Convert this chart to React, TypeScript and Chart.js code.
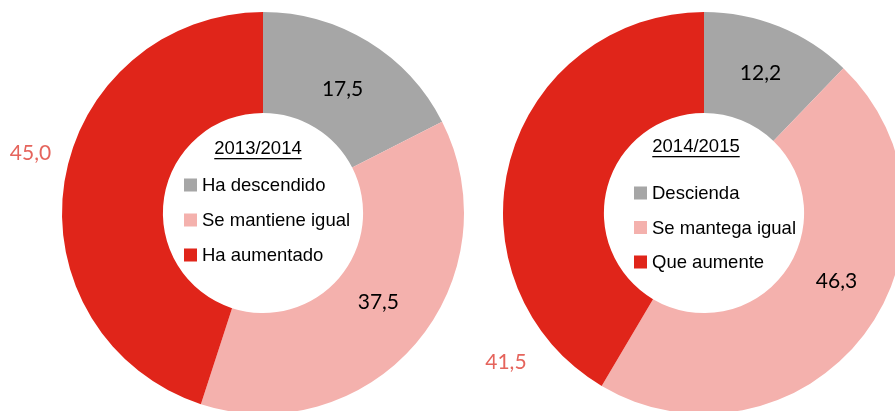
import React, { useEffect, useRef } from "react";
import { Chart, registerables } from "chart.js";

Chart.register(...registerables);

const leftTitle = "2013/2014";
const leftCategories = ["Ha descendido", "Se mantiene igual", "Ha aumentado"];
const leftValues = [17.5, 37.5, 45.0];

const rightTitle = "2014/2015";
const rightCategories = ["Descienda", "Se mantega igual", "Que aumente"];
const rightValues = [12.2, 46.3, 41.5];

const sliceColors = ["#A6A6A6", "#F4B1AD", "#E0251A"];

// label placement along each slice: fraction of the slice's sweep and radius (px)
const leftLabelPlace = [
  { t: 0.52, r: 147, color: "#000000" },
  { t: 0.48, r: 146, color: "#000000" },
  { t: 0.533, r: 240, color: "#E5645C" },
];
const rightLabelPlace = [
  { t: 0.5, r: 151, color: "#000000" },
  { t: 0.44, r: 149, color: "#000000" },
  { t: 0.15, r: 248, color: "#E5645C" },
];

const fmt = (v: number) => v.toFixed(1).replace(".", ",");

const labelPlugin = {
  id: "sliceLabels",
  afterDatasetsDraw(chart: any, _args: any, opts: any) {
    const ctx = chart.ctx;
    const meta = chart.getDatasetMeta(0);
    const values = chart.data.datasets[0].data as number[];
    ctx.save();
    ctx.font = "21px Lato";
    ctx.textAlign = "center";
    ctx.textBaseline = "middle";
    meta.data.forEach((arc: any, i: number) => {
      const p = arc.getProps(["x", "y", "startAngle", "endAngle"], true);
      const place = opts.places[i];
      const a = p.startAngle + place.t * (p.endAngle - p.startAngle);
      const x = p.x + Math.cos(a) * place.r;
      const y = p.y + Math.sin(a) * place.r;
      ctx.fillStyle = place.color;
      ctx.fillText(fmt(values[i]), x, y);
    });
    ctx.restore();
  },
};

const centerLegendPlugin = {
  id: "centerLegend",
  afterDatasetsDraw(chart: any, _args: any, opts: any) {
    const ctx = chart.ctx;
    const meta = chart.getDatasetMeta(0);
    const arc = meta.data[0];
    if (!arc) return;
    const { x: cx, y: cy } = arc.getProps(["x", "y"], true);
    const labels = chart.data.labels as string[];
    const colors = chart.data.datasets[0].backgroundColor as string[];
    ctx.save();
    ctx.font = "18.5px 'Liberation Sans'";
    ctx.fillStyle = "#000";
    ctx.textBaseline = "middle";
    // title
    ctx.textAlign = "center";
    const tx = cx + opts.titleDx;
    const ty = cy + opts.titleDy;
    ctx.fillText(opts.title, tx, ty);
    const tw = ctx.measureText(opts.title).width;
    ctx.fillRect(tx - tw / 2, ty + 9, tw, 1.3);
    // items
    ctx.textAlign = "left";
    labels.forEach((lab, i) => {
      const y = cy + opts.itemDy + i * opts.rowGap;
      const bx = cx + opts.boxDx;
      ctx.fillStyle = colors[i];
      ctx.fillRect(bx, y - 6.5, 13, 13);
      ctx.fillStyle = "#000";
      ctx.fillText(lab, bx + 18, y + 1);
    });
    ctx.restore();
  },
};

function Donut(props: {
  categories: string[];
  values: number[];
  title: string;
  places: any[];
  padding: any;
  legend: any;
  style: React.CSSProperties;
}) {
  const ref = useRef<HTMLCanvasElement>(null);
  useEffect(() => {
    if (!ref.current) return;
    const chart = new Chart(ref.current, {
      type: "doughnut",
      data: {
        labels: props.categories,
        datasets: [
          {
            data: props.values,
            backgroundColor: sliceColors,
            borderWidth: 0,
            hoverOffset: 0,
          },
        ],
      },
      options: {
        animation: false,
        responsive: false,
        maintainAspectRatio: false,
        cutout: "49.8%",
        layout: { padding: props.padding },
        plugins: {
          legend: { display: false },
          tooltip: { enabled: false },
          sliceLabels: { places: props.places },
          centerLegend: { title: props.title, ...props.legend },
        } as any,
      },
      plugins: [labelPlugin, centerLegendPlugin],
    });
    return () => chart.destroy();
  }, []);
  return <canvas ref={ref} width={props.style.width as number} height={props.style.height as number} style={props.style} />;
}

export default function App() {
  return (
    <div
      style={{
        position: "fixed",
        left: 0,
        top: 0,
        width: 895,
        height: 411,
        overflow: "hidden",
        background: "#fff",
      }}
    >
      <Donut
        categories={leftCategories}
        values={leftValues}
        title={leftTitle}
        places={leftLabelPlace}
        padding={{ left: 62, top: 12, right: 6, bottom: 16 }}
        legend={{ titleDx: -5, titleDy: -64, boxDx: -79, itemDy: -28, rowGap: 35 }}
        style={{ position: "absolute", left: 0, top: 0, width: 470, height: 430 }}
      />
      <Donut
        categories={rightCategories}
        values={rightValues}
        title={rightTitle}
        places={rightLabelPlace}
        padding={{ left: 23, top: 12, right: 5, bottom: 16 }}
        legend={{ titleDx: -8, titleDy: -66, boxDx: -70, itemDy: -20, rowGap: 34.5 }}
        style={{ position: "absolute", left: 480, top: 0, width: 430, height: 430 }}
      />
    </div>
  );
}
